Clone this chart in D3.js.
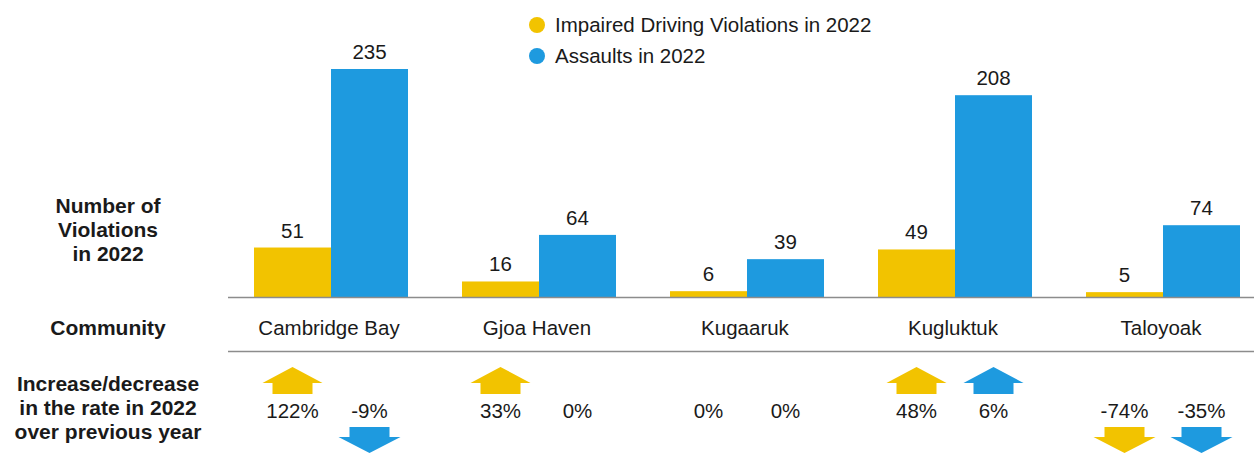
<!DOCTYPE html>
<html>
<head>
<meta charset="utf-8">
<script src="https://cdn.jsdelivr.net/npm/d3@7"></script>
<style>
  body { margin: 0; background: #fff; }
  text { font-family: Arial, "Liberation Sans", sans-serif; fill: #1a1a1a; }
</style>
</head>
<body>
<script>
var communities = ["Cambridge Bay", "Gjoa Haven", "Kugaaruk", "Kugluktuk", "Taloyoak"];
var impaired = [51, 16, 6, 49, 5];
var assaults = [235, 64, 39, 208, 74];
var impairedChange = [122, 33, 0, 48, -74];
var assaultsChange = [-9, 0, 0, 6, -35];
var seriesNames = ["Impaired Driving Violations in 2022", "Assaults in 2022"];
var colors = ["#F2C300", "#1E9ADF"];

var width = 1254, height = 462;
var baseY = 297;
var fs = 20.5;

var svg = d3.select("body")
    .append("svg")
    .attr("width", width)
    .attr("height", height);

var x = d3.scaleBand()
    .domain(communities)
    .range([227, 1267]);

var inner = d3.scaleBand()
    .domain([0, 1])
    .range([27, 181]);

var y = d3.scaleLinear()
    .domain([0, 235])
    .range([baseY, 69]);

// legend
seriesNames.forEach(function (name, i) {
    var ly = 25 + i * 31;
    svg.append("circle")
        .attr("cx", 537).attr("cy", ly)
        .attr("r", 8)
        .attr("fill", colors[i]);
    svg.append("text")
        .attr("x", 555).attr("y", ly + 7)
        .attr("font-size", fs)
        .text(name);
});

// left labels
function leftLabel(lines, y0) {
    var t = svg.append("text")
        .attr("x", 108).attr("y", y0)
        .attr("text-anchor", "middle")
        .attr("font-size", 21)
        .attr("font-weight", "bold");
    lines.forEach(function (l, i) {
        t.append("tspan").attr("x", 108).attr("dy", i == 0 ? 0 : 24).text(l);
    });
}
leftLabel(["Number of", "Violations", "in 2022"], 213);
leftLabel(["Community"], 335);
leftLabel(["Increase/decrease", "in the rate in 2022", "over previous year"], 391);

// bars
var series = [impaired, assaults];
series.forEach(function (vals, s) {
    var g = svg.append("g");
    g.selectAll("rect")
        .data(vals)
        .enter()
        .append("rect")
        .attr("x", function (d, i) { return x(communities[i]) + inner(s); })
        .attr("width", inner.bandwidth())
        .attr("y", function (d) { return y(d); })
        .attr("height", function (d) { return baseY - y(d); })
        .attr("fill", colors[s]);
    g.selectAll("text")
        .data(vals)
        .enter()
        .append("text")
        .attr("x", function (d, i) { return x(communities[i]) + inner(s) + inner.bandwidth() / 2; })
        .attr("y", function (d) { return y(d) - 10; })
        .attr("text-anchor", "middle")
        .attr("font-size", fs)
        .text(function (d) { return d; });
});

// lines
svg.append("line")
    .attr("x1", 228).attr("x2", 1254)
    .attr("y1", baseY + 0.5).attr("y2", baseY + 0.5)
    .attr("stroke", "#8c8c8c").attr("stroke-width", 1.5);
svg.append("line")
    .attr("x1", 228).attr("x2", 1254)
    .attr("y1", 351.5).attr("y2", 351.5)
    .attr("stroke", "#8c8c8c").attr("stroke-width", 1.5);

// community labels
svg.selectAll(".comm")
    .data(communities)
    .enter()
    .append("text")
    .attr("x", function (d) { return x(d) + x.bandwidth() / 2 - 2; })
    .attr("y", 335)
    .attr("text-anchor", "middle")
    .attr("font-size", fs)
    .text(function (d) { return d; });

// change arrows
function upArrow(cx) {
    return "M" + (cx - 30) + ",383 L" + cx + ",367 L" + (cx + 30) + ",383 L" + (cx + 20) + ",383 L" + (cx + 20) + ",394 L" + (cx - 20) + ",394 L" + (cx - 20) + ",383 Z";
}
function downArrow(cx) {
    return "M" + (cx - 20) + ",427 L" + (cx + 20) + ",427 L" + (cx + 20) + ",437 L" + (cx + 31) + ",437 L" + cx + ",453 L" + (cx - 31) + ",437 L" + (cx - 20) + ",437 Z";
}
[impairedChange, assaultsChange].forEach(function (vals, s) {
    vals.forEach(function (v, i) {
        var cx = x(communities[i]) + inner(s) + inner.bandwidth() / 2;
        if (v > 0) {
            svg.append("path").attr("d", upArrow(cx)).attr("fill", colors[s]);
        } else if (v < 0) {
            svg.append("path").attr("d", downArrow(cx)).attr("fill", colors[s]);
        }
        svg.append("text")
            .attr("x", cx)
            .attr("y", 418)
            .attr("text-anchor", "middle")
            .attr("font-size", fs)
            .text(v + "%");
    });
});
</script>
</body>
</html>
